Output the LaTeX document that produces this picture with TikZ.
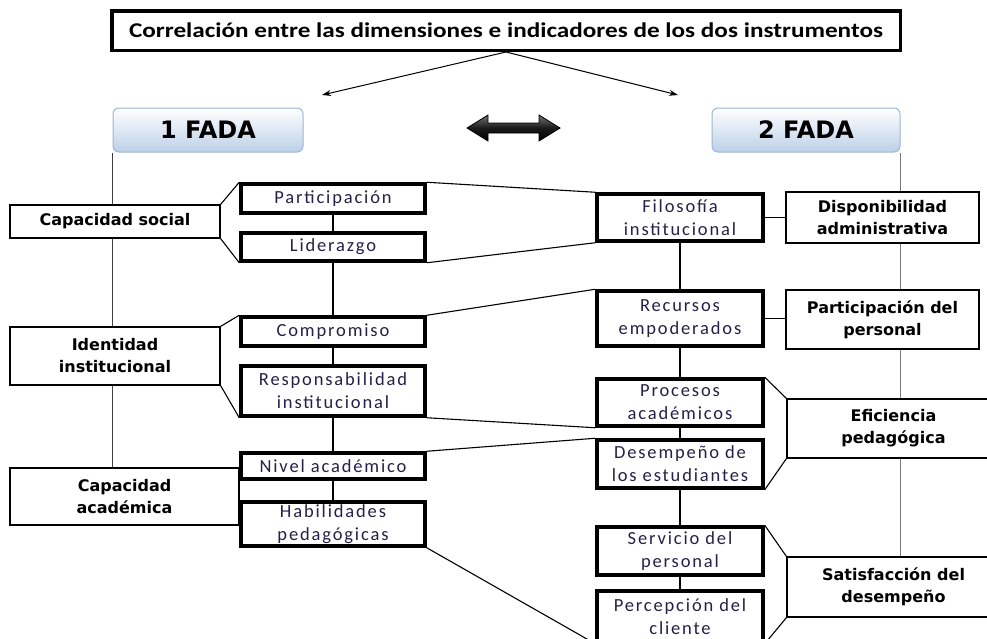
\documentclass[tikz,border=0pt]{standalone}
\usepackage{fontspec}
\setmainfont{Carlito}
\newfontfamily\midfont[LetterSpace=10]{Carlito}
\newfontfamily\titlefont[FakeStretch=1.2]{Carlito}
\newfontfamily\dimfont{DejaVu Sans}
\usetikzlibrary{arrows.meta}
\definecolor{midtxt}{HTML}{262048}
\definecolor{fadabot}{HTML}{BCD0E8}
\definecolor{fadaedge}{HTML}{9DB6D4}
\definecolor{railgray}{HTML}{7A7A7A}
\begin{document}
\begin{tikzpicture}[x=1pt,y=-1pt,
  titlebox/.style={draw=black, line width=3.5pt, fill=white, inner sep=0pt,
    font=\titlefont\fontsize{21}{24}\selectfont\bfseries},
  fadabox/.style={draw=fadaedge, line width=1pt, rounded corners=6pt,
    top color=white, bottom color=fadabot, inner sep=0pt,
    minimum width=190pt, minimum height=44pt, font=\dimfont\fontsize{24}{26}\selectfont\bfseries},
  dimbox/.style={draw=black, line width=1.3pt, fill=white, align=center, inner sep=0pt,
    font=\dimfont\fontsize{16}{22}\selectfont\bfseries},
  indbox/.style={draw=black, line width=3.5pt, fill=white, align=center, inner sep=0pt,
    text=midtxt, font=\midfont\fontsize{18.5}{23}\selectfont},
  leftind/.style={indbox, minimum width=184pt},
  rightind/.style={indbox, minimum width=166pt},
  link/.style={draw=black, line width=1.1pt},
  rail/.style={draw=railgray, line width=1.6pt},
  railL/.style={draw=black!75, line width=1.4pt},
  toparrow/.style={draw=black, line width=1pt, -{Stealth[length=9pt,width=6pt]}},
  dblarrow/.style={draw=black, line width=0.8pt, top color=black!55, bottom color=black, middle color=black!90}
]
\useasboundingbox (0,0) rectangle (987,638);
\clip (0,0) rectangle (987,638);
\fill[white] (0,0) rectangle (987,638);

% title and headers
\node[titlebox, minimum width=788.5pt, minimum height=39.5pt] (T) at (506,30.5)
  {Correlación entre las dimensiones e indicadores de los dos instrumentos};
\node[fadabox] (F1) at (208,130) {1 FADA};
\node[fadabox, minimum width=188pt] (F2) at (806,130) {2 FADA};
\coordinate (la) at (322,95);
\coordinate (ra) at (678,95);
\draw[toparrow] (T.south) -- (la);
\draw[toparrow] (T.south) -- (ra);

% double arrow
\path[dblarrow] (467,128) -- (488,115) -- (488,123) -- (539,123) -- (539,115)
  -- (560,128) -- (539,141) -- (539,133) -- (488,133) -- (488,141) -- cycle;

% left dimensions
\node[dimbox, minimum width=210pt, minimum height=33pt] (CS) at (115,221.5) {Capacidad social};
\node[dimbox, minimum width=210pt, minimum height=58pt] (II) at (115,356) {Identidad\\institucional};
\node[dimbox, minimum width=229pt, minimum height=57pt] (CA) at (124.5,496.5) {Capacidad\\académica};

% left indicators
\node[leftind, minimum height=29pt] (Part) at (333,198.5) {Participación};
\node[leftind, minimum height=28pt] (Lid) at (333,247) {Liderazgo};
\node[leftind, minimum height=29pt] (Comp) at (333,331.5) {Compromiso};
\node[leftind, minimum height=50pt] (Resp) at (333,391) {Responsabilidad\\institucional};
\node[leftind, minimum height=26pt] (Niv) at (333,466) {Nivel académico};
\node[leftind, minimum height=44pt] (Hab) at (333,524) {Habilidades\\pedagógicas};

% right indicators
\node[rightind, minimum height=47pt] (Filo) at (680,217.5) {Filosofía\\institucional};
\node[rightind, minimum height=55pt] (Rec) at (680,318.5) {Recursos\\empoderados};
\node[rightind, minimum height=47pt] (Proc) at (680,402.5) {Procesos\\académicos};
\node[rightind, minimum height=48pt] (Des) at (680,464) {Desempeño de\\los estudiantes};
\node[rightind, minimum height=48pt] (Serv) at (680,551) {Servicio del\\personal};
\node[rightind, minimum height=51pt] (Perc) at (680,616.5) {Percepción del\\cliente};

% right dimensions
\node[dimbox, minimum width=193pt, minimum height=51pt] (Disp) at (882.5,217.5) {Disponibilidad\\administrativa};
\node[dimbox, minimum width=193pt, minimum height=59pt] (PP) at (882.5,319.5) {Participación del\\personal};
\node[dimbox, minimum width=213pt, minimum height=59pt] (Efi) at (893.5,428.5) {Eficiencia\\pedagógica};
\node[dimbox, minimum width=213pt, minimum height=60pt] (Sat) at (893.5,587) {Satisfacción del\\desempeño};

% left rail
\draw[railL] (F1.south west) -- (F1.south west |- CS.north);
\draw[railL] (F1.south west |- CS.south) -- (F1.south west |- II.north);
\draw[railL] (F1.south west |- II.south) -- (F1.south west |- CA.north);
% right rail
\draw[rail] (F2.south east) -- (F2.south east |- Disp.north);
\draw[rail] (F2.south east |- Disp.south) -- (F2.south east |- PP.north);
\draw[rail] (F2.south east |- PP.south) -- (F2.south east |- Efi.north);
\draw[rail] (F2.south east |- Efi.south) -- (F2.south east |- Sat.north);

% dimension brackets left
\draw[link] (CS.north east) -- (Part.north west);
\draw[link] (CS.south east) -- (Lid.south west);
\draw[link] (II.north east) -- (Comp.north west);
\draw[link] (II.south east) -- (Resp.south west);

% vertical chains
\draw[link] (Part) -- (Lid);
\draw[link] (Lid) -- (Comp);
\draw[link] (Comp) -- (Resp);
\draw[link] (Resp) -- (Niv);
\draw[link] (Niv) -- (Hab);
\draw[link] (Filo) -- (Rec);
\draw[link] (Rec) -- (Proc);
\draw[link] (Proc) -- (Des);
\draw[link] (Des) -- (Serv);
\draw[link] (Serv) -- (Perc);

% cross links
\draw[link] (Part.north east) -- (Filo.north west);
\draw[link] (Lid.south east) -- (Filo.south west);
\draw[link] (Comp.north east) -- (Rec.north west);
\draw[link] (Resp.south east) -- (Proc.south west);
\draw[link] (Niv.north east) -- (Des.north west);
\draw[link] (Hab.south east) -- (Perc.south west);

% right brackets
\draw[link] (Filo) -- (Disp);
\draw[link] (Rec) -- (Rec -| PP.west);
\draw[link] (Proc.north east) -- (Efi.north west);
\draw[link] (Des.south east) -- (Efi.south west);
\draw[link] (Serv.north east) -- (Sat.north west);
\draw[link] (Perc.south east) -- (Sat.south west);
\end{tikzpicture}
\end{document}
